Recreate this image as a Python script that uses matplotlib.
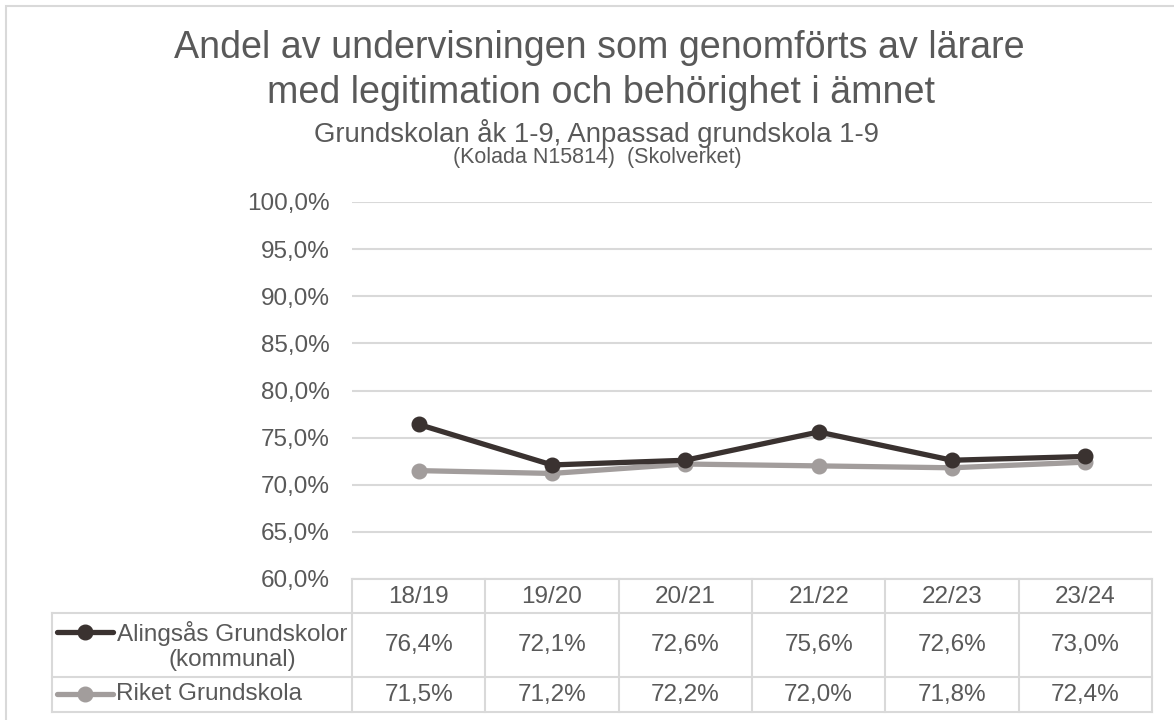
import matplotlib
matplotlib.use("Agg")
import matplotlib.pyplot as plt
from matplotlib.transforms import blended_transform_factory
from matplotlib.lines import Line2D
from matplotlib.patches import Rectangle

categories = ["18/19", "19/20", "20/21", "21/22", "22/23", "23/24"]
alingsas = [76.4, 72.1, 72.6, 75.6, 72.6, 73.0]
riket = [71.5, 71.2, 72.2, 72.0, 71.8, 72.4]
series_names = ["Alingsås Grundskolor\n(kommunal)", "Riket Grundskola"]
yticks = [60, 65, 70, 75, 80, 85, 90, 95, 100]

title1 = "Andel av undervisningen som genomförts av lärare"
title2 = "med legitimation och behörighet i ämnet"
subtitle = "Grundskolan åk 1-9, Anpassad grundskola 1-9"
source = "(Kolada N15814)  (Skolverket)"

TEXT = "#595959"
GRID = "#d9d9d9"
DARK = "#3a3230"
GRAY = "#a29d9c"
FS = 17.5

plt.rcParams["font.family"] = ["Liberation Sans", "DejaVu Sans"]

W, H = 1174, 720
fig = plt.figure(figsize=(W / 100, H / 100), dpi=100)
fig.patch.set_facecolor("white")

def fy(py):
    return 1 - py / H

def fx(px):
    return px / W

ax_left, ax_right, ax_top, ax_bot = 352, 1152, 202, 579
ax = fig.add_axes([fx(ax_left), fy(ax_bot), (ax_right - ax_left) / W, (ax_bot - ax_top) / H])
ax.set_xlim(-0.5, len(categories) - 0.5)
ax.set_ylim(60, 100)
ax.set_yticks(yticks)
ax.set_yticklabels([f"{v:.1f}%".replace(".", ",") for v in yticks], fontsize=FS, color=TEXT)
ax.tick_params(axis="y", length=0, pad=16)
ax.set_xticks([])
for s in ax.spines.values():
    s.set_visible(False)
ax.grid(axis="y", color=GRID, linewidth=1.5)
ax.set_axisbelow(True)

x = list(range(len(categories)))
ax.plot(x, riket, color=GRAY, lw=3.8, marker="o", ms=10.5, zorder=3, solid_capstyle="round")
ax.plot(x, alingsas, color=DARK, lw=3.8, marker="o", ms=10.5, zorder=4, solid_capstyle="round")

# Titles
fig.text(fx(599), fy(48), title1, ha="center", va="center", fontsize=27.1, color=TEXT)
fig.text(fx(601), fy(93), title2, ha="center", va="center", fontsize=27.1, color=TEXT)
fig.text(fx(596), fy(133), subtitle, ha="center", va="center", fontsize=19.8, color=TEXT)
fig.text(fx(597), fy(158), source, ha="center", va="center", fontsize=15.5, color=TEXT)

# Data table
tr = blended_transform_factory(ax.transData, fig.transFigure)
trf = fig.transFigure
hdr_top, hdr_bot, r1_bot, r2_bot = 579, 613, 677, 712
lbl_left = 52
lkw = dict(color=GRID, lw=1.5, clip_on=False)

n = len(categories)
fig.add_artist(Line2D([-0.5, n - 0.5], [fy(hdr_top)] * 2, transform=tr, **lkw))
for yy in (hdr_bot, r1_bot, r2_bot):
    fig.add_artist(Line2D([fx(lbl_left), fx(ax_right)], [fy(yy)] * 2, transform=trf, **lkw))
for i in range(n + 1):
    fig.add_artist(Line2D([i - 0.5, i - 0.5], [fy(hdr_top), fy(r2_bot)], transform=tr, **lkw))
fig.add_artist(Line2D([fx(lbl_left)] * 2, [fy(hdr_bot), fy(r2_bot)], transform=trf, **lkw))

fmt = lambda v: f"{v:.1f}%".replace(".", ",")
for i, c in enumerate(categories):
    fig.text(i, fy(597), c, transform=tr, ha="center", va="center", fontsize=FS, color=TEXT)
    fig.text(i, fy(645), fmt(alingsas[i]), transform=tr, ha="center", va="center", fontsize=FS, color=TEXT)
    fig.text(i, fy(695), fmt(riket[i]), transform=tr, ha="center", va="center", fontsize=FS, color=TEXT)

# legend keys
for yk, col in ((632, DARK), (694, GRAY)):
    fig.add_artist(Line2D([fx(57), fx(113)], [fy(yk)] * 2, transform=trf, color=col, lw=3.8,
                          solid_capstyle="round", clip_on=False))
    fig.add_artist(Line2D([fx(85)], [fy(yk)], transform=trf, color=col, marker="o", ms=10.5,
                          clip_on=False))
fig.text(fx(232), fy(646), series_names[0], ha="center", va="center", fontsize=FS, color=TEXT,
         multialignment="center", linespacing=1.2)
fig.text(fx(116), fy(694), series_names[1], ha="left", va="center", fontsize=FS, color=TEXT)

# chart border
fig.add_artist(Rectangle((fx(6), fy(730)), fx(1200), fy(6) - fy(730), transform=trf,
                         fill=False, edgecolor=GRID, lw=1.5, clip_on=False))

fig.savefig("out.png", dpi=100, facecolor="white")
